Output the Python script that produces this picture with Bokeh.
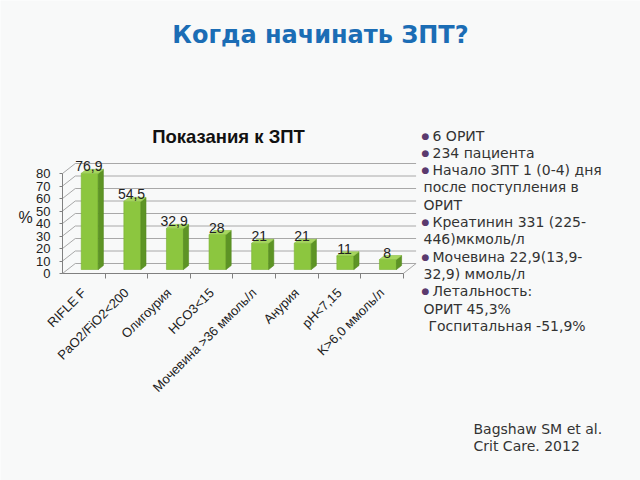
import math
from bokeh.plotting import figure
from bokeh.models import (Range1d, LinearAxis, FixedTicker, CustomJSTickFormatter,
                          Label, ColumnDataSource)
from bokeh.core.properties import value
from bokeh.embed import file_html
from bokeh.resources import INLINE

# ---------------- data ----------------
slide_title = "Когда начинать ЗПТ?"
chart_title = "Показания к ЗПТ"
y_label = "%"
categories = ["RIFLE F", "PaO2/FiO2<200", "Олигоурия", "HCO3<15",
              "Мочевина >36 ммоль/л", "Анурия", "pH<7,15", "K>6,0 ммоль/л"]
values = [76.9, 54.5, 32.9, 28, 21, 21, 11, 8]
value_labels = ["76,9", "54,5", "32,9", "28", "21", "21", "11", "8"]
y_ticks = [0, 10, 20, 30, 40, 50, 60, 70, 80]
info_lines = ["6 ОРИТ", "234 пациента", "Начало ЗПТ 1 (0-4) дня",
              "после поступления в", "ОРИТ", "Креатинин 331 (225-",
              "446)мкмоль/л", "Мочевина 22,9(13,9-", "32,9) ммоль/л",
              "Летальность:", "ОРИТ 45,3%", "Госпитальная -51,9%"]
info_bullets = [True, True, True, False, False, True, False, True, False,
                True, False, False]
citation = ["Bagshaw SM et al.", "Crit Care. 2012"]

# ---------------- layout constants ----------------
W, H = 640, 480
LEFT, BOTTOM = 62, 273          # pixel position of the chart origin
PXX, PXY = 42.6, 1.25           # pixels per data unit
DX, DY = 0.3, 8.0               # 3D depth of the back wall (data units)
BX, BY = 0.12, 3.2              # depth of a bar
BG = "#f8f9f9"


def dx(px):
    return (px - LEFT) / PXX


def dy(py):
    return (BOTTOM - py) / PXY


p = figure(width=W, height=H, title=None,
           x_range=Range1d(dx(0), dx(W)), y_range=Range1d(dy(H), dy(0)),
           x_axis_type=None, y_axis_type=None,
           min_border_left=0, min_border_right=0, min_border_top=0,
           min_border_bottom=0,
           toolbar_location=None, output_backend="svg")
p.background_fill_color = BG
p.border_fill_color = BG
p.outline_line_color = None

n = len(categories)

# back wall gridlines and perspective diagonals
p.segment(x0=[DX] * len(y_ticks), y0=[t + DY for t in y_ticks],
          x1=[n + DX] * len(y_ticks), y1=[t + DY for t in y_ticks],
          line_color="#a8a8a8", line_width=1)
p.segment(x0=[0] * len(y_ticks), y0=y_ticks,
          x1=[DX] * len(y_ticks), y1=[t + DY for t in y_ticks],
          line_color="#a8a8a8", line_width=1)
p.segment(x0=[n], y0=[0], x1=[n + DX], y1=[DY],
          line_color="#a8a8a8", line_width=1)

# bars (front, side, top)
lefts = [i + 0.44 for i in range(n)]
rights = [i + 0.84 for i in range(n)]
tops = [BY + v for v in values]
p.quad(left=lefts, right=rights, bottom=[BY] * n, top=tops,
       fill_color="#8cc63f", line_color="#79b12f", line_width=0.6)
side_xs = [[r, r + BX, r + BX, r] for r in rights]
side_ys = [[BY, 2 * BY, t + BY, t] for t in tops]
p.patches(side_xs, side_ys, fill_color="#5d9425", line_color="#548a1f", line_width=0.6)
top_xs = [[l, r, r + BX, l + BX] for l, r in zip(lefts, rights)]
top_ys = [[t, t, t + BY, t + BY] for t in tops]
p.patches(top_xs, top_ys, fill_color="#a7d65f", line_color="#8cbf45", line_width=0.6)

src = ColumnDataSource(dict(x=[i + 0.62 for i in range(n)],
                            y=[t + BY for t in tops], txt=value_labels))
p.text(x="x", y="y", text="txt", source=src, text_align="center",
       text_baseline="alphabetic", y_offset=-3,
       text_font=value("Liberation Sans"), text_font_size="14px",
       text_color="#222222")

# axes (drawn at the chart origin inside the canvas)
yaxis = LinearAxis(ticker=FixedTicker(ticks=y_ticks), bounds=(0, 80),
                   fixed_location=0)
yaxis.axis_line_color = "#808080"
yaxis.major_tick_line_color = "#808080"
yaxis.major_tick_out = 3
yaxis.major_tick_in = 0
yaxis.minor_tick_out = 0
yaxis.minor_tick_in = 0
yaxis.major_label_standoff = 9
yaxis.major_label_text_font = "Liberation Sans"
yaxis.major_label_text_font_size = "13px"
yaxis.major_label_text_color = "#222222"
p.add_layout(yaxis, "left")

xaxis = LinearAxis(
    ticker=FixedTicker(ticks=[i + 0.5 for i in range(n)],
                       minor_ticks=[i + 1 for i in range(n)]),
    bounds=(0, n), fixed_location=0,
    formatter=CustomJSTickFormatter(args=dict(labels=categories),
                                    code="return labels[Math.floor(tick)] || ''"))
xaxis.axis_line_color = "#808080"
xaxis.major_tick_out = 0
xaxis.major_tick_in = 0
xaxis.minor_tick_out = 5
xaxis.minor_tick_in = 0
xaxis.minor_tick_line_color = "#808080"
xaxis.major_label_orientation = math.pi / 4
xaxis.major_label_standoff = 12
xaxis.major_label_text_font = "Liberation Sans"
xaxis.major_label_text_font_size = "13px"
xaxis.major_label_text_color = "#222222"
p.add_layout(xaxis, "below")

# titles
p.add_layout(Label(x=dx(320), y=dy(34), text=slide_title, text_align="center",
                   text_baseline="middle", text_font="DejaVu Sans",
                   text_font_style="bold", text_font_size="24px",
                   text_color="#1b6db5"))
p.add_layout(Label(x=dx(228), y=dy(136), text=chart_title, text_align="center",
                   text_baseline="middle", text_font="Liberation Sans",
                   text_font_style="bold", text_font_size="18.5px",
                   text_color="#111111"))
p.add_layout(Label(x=dx(25), y=dy(217), text=y_label, text_align="center",
                   text_baseline="middle", text_font="Liberation Sans",
                   text_font_size="16px", text_color="#222222"))

# info text block
y0, step = 135, 17.3
for k, (line, bullet) in enumerate(zip(info_lines, info_bullets)):
    yy = dy(y0 + k * step)
    if bullet:
        p.add_layout(Label(x=dx(425), y=yy, text="●", text_align="center",
                           text_baseline="middle", text_font="DejaVu Sans",
                           text_font_size="9px", text_color="#5b3a6e"))
        xx = dx(432)
    elif k == len(info_lines) - 1:
        xx = dx(428)
    else:
        xx = dx(423)
    p.add_layout(Label(x=xx, y=yy, text=line, text_align="left",
                       text_baseline="middle", text_font="DejaVu Sans",
                       text_font_size="14px", text_color="#333333"))

for k, line in enumerate(citation):
    p.add_layout(Label(x=dx(473), y=dy(428 + k * 17), text=line,
                       text_align="left", text_baseline="middle",
                       text_font="DejaVu Sans", text_font_size="14px",
                       text_color="#333333"))

open("out.html", "w").write(file_html(p, INLINE))
